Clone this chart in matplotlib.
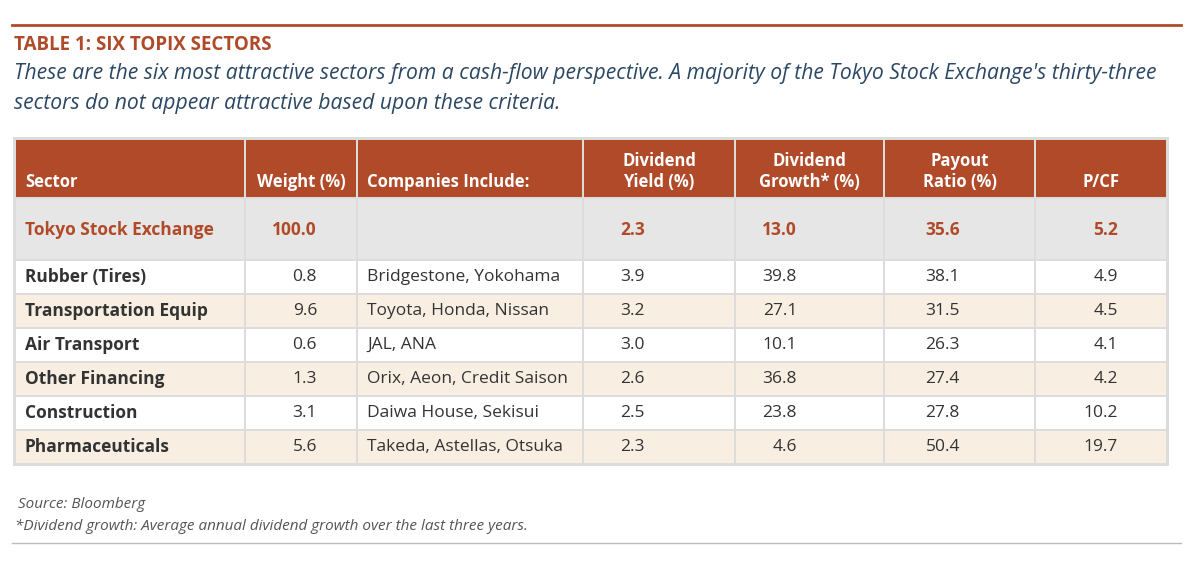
import matplotlib
matplotlib.use('agg')
import matplotlib.pyplot as plt
from matplotlib.patches import Rectangle

plt.rcParams['font.family'] = ['Open Sans', 'DejaVu Sans']

W, H = 1200, 568
title = 'TABLE 1: SIX TOPIX SECTORS'
subtitle = ["These are the six most attractive sectors from a cash-flow perspective. A majority of the Tokyo Stock Exchange's thirty-three",
            "sectors do not appear attractive based upon these criteria."]
headers = ['Sector', 'Weight (%)', 'Companies Include:', 'Dividend\nYield (%)',
           'Dividend\nGrowth* (%)', 'Payout\nRatio (%)', 'P/CF']
total = ['Tokyo Stock Exchange', '100.0', '', '2.3', '13.0', '35.6', '5.2']
sectors = ['Rubber (Tires)', 'Transportation Equip', 'Air Transport', 'Other Financing',
           'Construction', 'Pharmaceuticals']
weights = ['0.8', '9.6', '0.6', '1.3', '3.1', '5.6']
companies = ['Bridgestone, Yokohama', 'Toyota, Honda, Nissan', 'JAL, ANA',
             'Orix, Aeon, Credit Saison', 'Daiwa House, Sekisui', 'Takeda, Astellas, Otsuka']
div_yield = ['3.9', '3.2', '3.0', '2.6', '2.5', '2.3']
div_growth = ['39.8', '27.1', '10.1', '36.8', '23.8', '4.6']
payout = ['38.1', '31.5', '26.3', '27.4', '27.8', '50.4']
pcf = ['4.9', '4.5', '4.1', '4.2', '10.2', '19.7']
notes = ['Source: Bloomberg', '*Dividend growth: Average annual dividend growth over the last three years.']

brown = '#b04a28'
navy = '#2b4763'
edges = [15, 245, 357, 583, 735, 884, 1035, 1167]
right_x = [None, 317, None, 645, 797, 960, 1118]

fig = plt.figure(figsize=(12, 5.68), dpi=100)
ax = fig.add_axes([0, 0, 1, 1])
ax.set_xlim(0, W)
ax.set_ylim(H, 0)
ax.axis('off')

ax.plot([12, 1181], [25, 25], color=brown, lw=2)
ax.text(14, 45, title, color=brown, fontsize=13.5, fontweight='bold', va='center')
for i, s in enumerate(subtitle):
    ax.text(14, 74 + i * 29, s, color=navy, fontsize=15.2, style='italic', va='center')

# outer border
ax.add_patch(Rectangle((13, 137), 1156, 329, fc='#dcdcdc', ec='none'))
rows_y = [(140, 197), (199, 259)] + [(261 + 34 * i, 293 + 34 * i) for i in range(6)]
fills = [brown, '#e6e6e6'] + ['white' if i % 2 == 0 else '#f8efe2' for i in range(6)]
for (y0, y1), fc in zip(rows_y, fills):
    for c in range(7):
        ax.add_patch(Rectangle((edges[c] + 1, y0), edges[c + 1] - edges[c] - 2, y1 - y0,
                               fc=fc, ec='none'))

def put(c, y, s, color, weight='normal', header=False):
    if header and c not in (0, 2):
        ax.text((edges[c] + edges[c + 1]) / 2, y, s, ha='center', va='bottom', color=color,
                fontsize=12, fontweight=weight, linespacing=1.2)
    elif c in (0, 2):
        ax.text(edges[c] + 10, y, s, ha='left', va='bottom' if header else 'center',
                color=color, fontsize=12 if header else 12.5, fontweight=weight)
    else:
        ax.text(right_x[c], y, s, ha='right', va='center', color=color,
                fontsize=12.5, fontweight=weight)

for c, h in enumerate(headers):
    put(c, 191, h, 'white', 'bold', header=True)
for c, v in enumerate(total):
    put(c, 230, v, brown, 'bold')
cols = [sectors, weights, companies, div_yield, div_growth, payout, pcf]
for r in range(6):
    y = 277 + 34 * r
    for c, col in enumerate(cols):
        put(c, y, col[r], '#333333', 'bold' if c == 0 else 'normal')

ax.text(18, 505, notes[0], color='#555555', fontsize=11, style='italic', va='center')
ax.text(15, 527, notes[1], color='#555555', fontsize=11, style='italic', va='center')
ax.plot([12, 1181], [543, 543], color='#bbbbbb', lw=1)

fig.savefig('out.png', dpi=100)
